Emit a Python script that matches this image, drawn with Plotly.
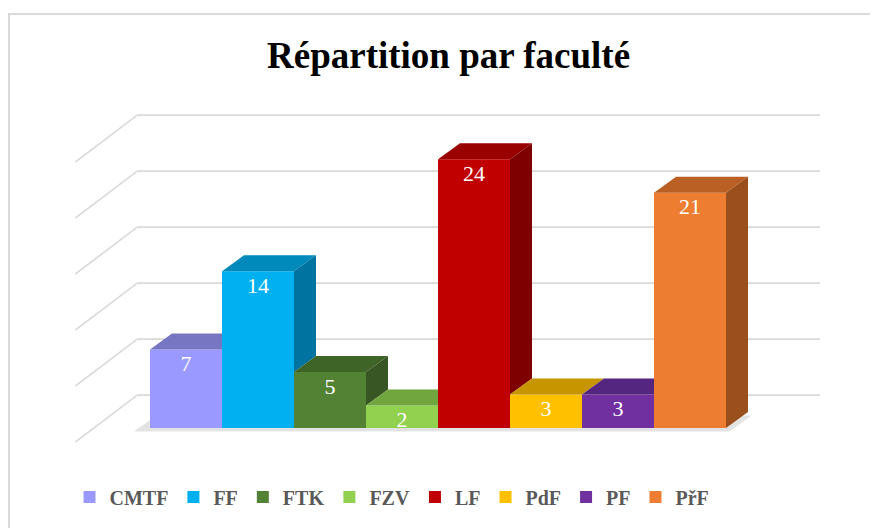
import plotly.graph_objects as go

# ---------------- data ----------------
faculties = ["CMTF", "FF", "FTK", "FZV", "LF", "PdF", "PF", "PřF"]
counts = [7, 14, 5, 2, 24, 3, 3, 21]
grid_values = [0, 5, 10, 15, 20, 25]
title_text = "Répartition par faculté"

front_colors = ["#9999FF", "#00B0F0", "#548235", "#92D050", "#C00000", "#FFC000", "#7030A0", "#ED7D31"]
top_colors = ["#7676C2", "#0089BB", "#3F6427", "#71A53D", "#990000", "#C69500", "#552680", "#BA6025"]
side_colors = ["#5F5F9E", "#0073A0", "#375623", "#5E8A33", "#7F0000", "#A67C00", "#47206A", "#9A4F1D"]

# ---------------- layout / projection parameters ----------------
PAGE_OFF = 8                 # browser body margin
W, H = 878 - PAGE_OFF, 528 - PAGE_OFF
PX_X = 72.0                  # px per category unit
PX_Y = 11.2                  # px per value unit
X0_PX = 186.0 - PAGE_OFF     # px position of category 0 centre
Y0_PX = 428.0 - PAGE_OFF     # px (from top) of value 0 at bar front

BAR_W = 1.0
BDX, BDY = 22 / PX_X, 16 / PX_Y          # bar depth offsets
FDX, FDY = 62 / PX_X, 47 / PX_Y          # full box depth offsets
D_FRONT = 0.30                            # bar front position inside the box depth
XMIN, XMAX = -1.28, 8.2                   # box extents at bar depth
LABEL_DROP = 5 / PX_Y                     # label offset below bar top

BACK_DX, BACK_DY = (1 - D_FRONT) * FDX, (1 - D_FRONT) * FDY
FRONT_DX, FRONT_DY = -D_FRONT * FDX, -D_FRONT * FDY

xr = [-X0_PX / PX_X, (W - X0_PX) / PX_X]
yr = [-(H - Y0_PX) / PX_Y, Y0_PX / PX_Y]

font_serif = "Liberation Serif, Times New Roman, serif"

fig = go.Figure()
shapes = []

# gridlines on back wall and left side wall
for v in grid_values:
    shapes.append(dict(type="line", xref="x", yref="y", layer="below",
                       x0=XMIN + BACK_DX, y0=v + BACK_DY, x1=XMAX + BACK_DX, y1=v + BACK_DY,
                       line=dict(color="#D9D9D9", width=1.6)))
    shapes.append(dict(type="line", xref="x", yref="y", layer="below",
                       x0=XMIN + FRONT_DX, y0=v + FRONT_DY, x1=XMIN + BACK_DX, y1=v + BACK_DY,
                       line=dict(color="#D9D9D9", width=1.6)))

# soft floor shadow under the bar row
n = len(counts)
left = -0.5 - 0.22
right = (n - 0.5) + 0.05
sy = -0.32
pts = [(left, sy), (right, sy), (right + BDX, sy + BDY), (left + BDX, sy + BDY)]
path = "M " + " L ".join(f"{px},{py}" for px, py in pts) + " Z"
shapes.append(dict(type="path", xref="x", yref="y", layer="below", path=path,
                   fillcolor="rgba(0,0,0,0.11)", line=dict(width=0)))

# chart frame
shapes.append(dict(type="rect", xref="paper", yref="paper", layer="below",
                   x0=(9 - PAGE_OFF) / W, y0=-0.02, x1=1.02, y1=1 - (14 - PAGE_OFF) / H,
                   line=dict(color="#D9D9D9", width=2), fillcolor="rgba(0,0,0,0)"))

# front faces as real bars (also give the legend)
for i, (name, v) in enumerate(zip(faculties, counts)):
    fig.add_trace(go.Bar(x=[i], y=[v], name=name, width=BAR_W,
                         marker=dict(color=front_colors[i], line=dict(width=0)),
                         hoverinfo="name+y"))

# top and side faces, clipped against the next bar
for i, v in enumerate(counts):
    xl = i - BAR_W / 2
    xrt = i + BAR_W / 2
    nxt = counts[i + 1] if i + 1 < n else None
    slope = BDY / BDX
    # top face
    if nxt is None or nxt <= v:
        top = [(xl, v), (xrt, v), (xrt + BDX, v + BDY), (xl + BDX, v + BDY)]
    elif nxt >= v + BDY:
        top = [(xl, v), (xrt, v), (xrt, v + BDY), (xl + BDX, v + BDY)]
    else:
        t = (nxt - v) / slope
        top = [(xl, v), (xrt, v), (xrt, nxt), (xrt + t, nxt),
               (xrt + BDX, v + BDY), (xl + BDX, v + BDY)]
    fig.add_trace(go.Scatter(x=[p[0] for p in top] + [top[0][0]],
                             y=[p[1] for p in top] + [top[0][1]],
                             mode="lines", fill="toself", fillcolor=top_colors[i],
                             line=dict(width=0, color=top_colors[i]),
                             showlegend=False, hoverinfo="skip"))
    # side face (visible only above the next bar)
    lo = 0 if nxt is None else max(0, nxt)
    if lo < v:
        side = [(xrt, lo), (xrt + BDX, lo + BDY), (xrt + BDX, v + BDY), (xrt, v)]
        fig.add_trace(go.Scatter(x=[p[0] for p in side] + [side[0][0]],
                                 y=[p[1] for p in side] + [side[0][1]],
                                 mode="lines", fill="toself", fillcolor=side_colors[i],
                                 line=dict(width=0, color=side_colors[i]),
                                 showlegend=False, hoverinfo="skip"))

# data labels
fig.add_trace(go.Scatter(x=list(range(n)), y=[v - LABEL_DROP for v in counts], mode="text",
                         text=[str(v) for v in counts], textposition="bottom center",
                         textfont=dict(family=font_serif, size=22, color="white"),
                         showlegend=False, hoverinfo="skip"))

fig.update_layout(
    width=W, height=H,
    margin=dict(l=0, r=0, t=0, b=0),
    paper_bgcolor="white", plot_bgcolor="white",
    barmode="overlay",
    xaxis=dict(range=xr, visible=False, fixedrange=True),
    yaxis=dict(range=yr, visible=False, fixedrange=True),
    shapes=shapes,
    showlegend=True,
    legend=dict(orientation="h", x=(392 - PAGE_OFF) / W, xanchor="center",
                y=1 - (497 - PAGE_OFF) / H, yanchor="middle",
                font=dict(family=font_serif, size=20, color="#595959", weight="bold"),
                bgcolor="rgba(0,0,0,0)", traceorder="normal"),
    annotations=[dict(text=f"<b>{title_text}</b>", xref="paper", yref="paper",
                      x=(448 - PAGE_OFF) / W, y=1 - (55 - PAGE_OFF) / H,
                      xanchor="center", yanchor="middle", showarrow=False,
                      font=dict(family=font_serif, size=37, color="black"))],
)

fig.write_html("out.html")
